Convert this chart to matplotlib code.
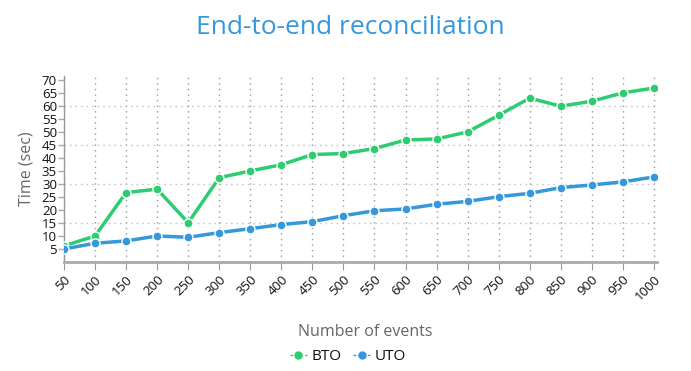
import matplotlib
matplotlib.use("Agg")
import matplotlib.pyplot as plt
from matplotlib.lines import Line2D

plt.rcParams['font.family'] = ['Open Sans', 'DejaVu Sans']

categories = ["50", "100", "150", "200", "250", "300", "350", "400", "450", "500",
              "550", "600", "650", "700", "750", "800", "850", "900", "950", "1000"]
bto = [6.2, 10.0, 26.7, 28.0, 15.1, 32.4, 35.0, 37.4, 41.3, 41.7,
       43.6, 46.9, 47.3, 50.0, 56.4, 63.0, 59.9, 61.8, 65.0, 66.9]
uto = [5.0, 7.2, 8.1, 10.0, 9.5, 11.3, 12.8, 14.4, 15.5, 17.8,
       19.7, 20.4, 22.2, 23.3, 25.1, 26.4, 28.6, 29.6, 30.8, 32.7]
yticks = list(range(5, 75, 5))
hgrid = [15, 30, 45, 60]

green = "#2ecc71"
blue = "#3498db"

fig = plt.figure(figsize=(6.91, 3.71), dpi=100)
ax = fig.add_axes([64/691, 1-262/371, (657-64)/691, (262-76)/371])

x = list(range(len(categories)))
for xi in x:
    ax.axvline(xi, ymin=0, ymax=1, color="#999999", lw=1, ls=(0, (1, 3)), zorder=0)
for h in hgrid:
    ax.axhline(h, color="#bbbbbb", lw=1, ls=(0, (1, 3)), zorder=0)

ax.plot(x, bto, color=green, lw=2.5, marker="o", ms=6.5, mfc=green, mec="white", mew=1, zorder=3)
ax.plot(x, uto, color=blue, lw=2.5, marker="o", ms=6.5, mfc=blue, mec="white", mew=1, zorder=3)

ax.set_xlim(0, 19.1)
ax.set_ylim(0, 71.5)
ax.set_xticks(x)
ax.set_xticklabels(categories, rotation=45, ha="right", rotation_mode="anchor", fontsize=9.5, color="#111111")
ax.set_yticks(yticks)
ax.set_yticklabels([str(v) for v in yticks], fontsize=9.5, color="#111111")
ax.tick_params(axis="x", length=6, color="#999999", width=0.8, pad=2)
ax.tick_params(axis="y", length=4, color="#aaaaaa", width=1, pad=1)

for s in ["top", "right"]:
    ax.spines[s].set_visible(False)
ax.spines["left"].set_color("#999999")
ax.spines["left"].set_linewidth(1)
ax.spines["bottom"].set_color("#aaaaaa")
ax.spines["bottom"].set_linewidth(2)

ax.set_ylabel("Time (sec)", fontsize=11.5, color="#666666", labelpad=5)
fig.text(365/691, 1-332/371, "Number of events", fontsize=11.5, color="#666666", ha="center", va="center")
fig.text(350/691, 1-34/371, "End-to-end reconciliation", fontsize=19, color=blue, ha="center", va="baseline")

handles = [Line2D([0], [0], color=green, lw=1, ls=(0, (2, 1.5)), marker="o", ms=5, mfc=green, mec=green),
           Line2D([0], [0], color=blue, lw=1, ls=(0, (2, 1.5)), marker="o", ms=5, mfc=blue, mec=blue)]
leg = fig.legend(handles, ["BTO", "UTO"], loc="center", bbox_to_anchor=(348/691, 1-357/371), ncol=2,
                 frameon=False, fontsize=11, handlelength=1.1, handletextpad=0.3, columnspacing=0.8)
for t in leg.get_texts():
    t.set_color("#111111")

fig.savefig("out.png", dpi=100)
